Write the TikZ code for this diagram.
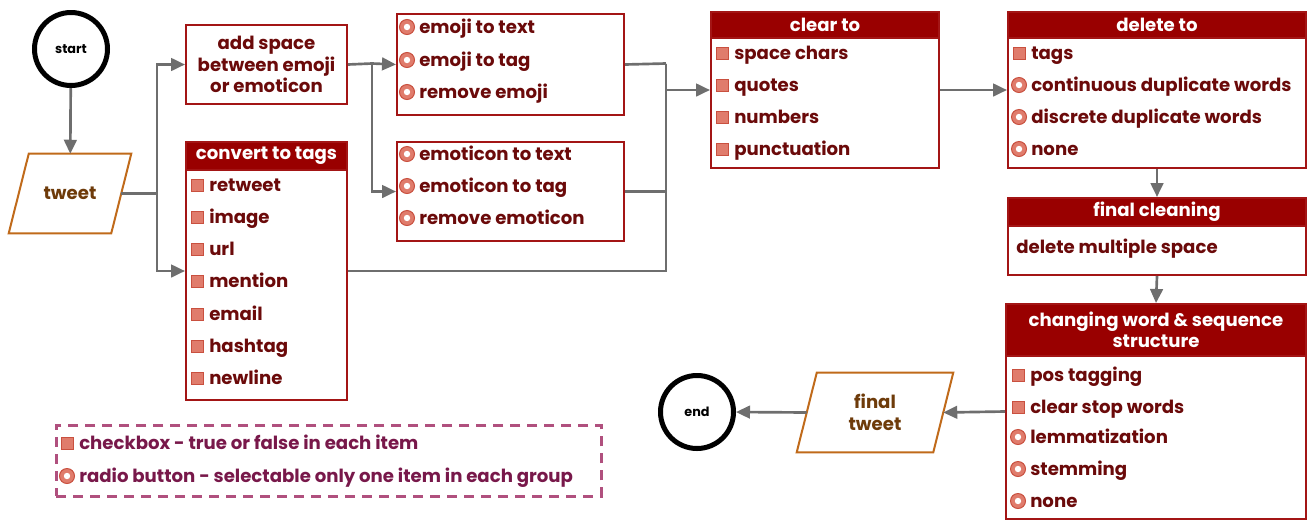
\documentclass[tikz,border=0pt]{standalone}
\usepackage{fontspec}
\setmainfont{Poppins}
\usetikzlibrary{arrows.meta,calc}
\definecolor{hdr}{HTML}{990000}
\definecolor{brd}{HTML}{A31515}
\definecolor{itm}{HTML}{6B0A0A}
\definecolor{chk}{HTML}{E07C6C}
\definecolor{chkb}{HTML}{C9503F}
\definecolor{conn}{HTML}{6E6E6E}
\definecolor{para}{HTML}{C06A1A}
\definecolor{paratxt}{HTML}{6E3B0A}
\definecolor{leg}{HTML}{B0507E}
\definecolor{legtxt}{HTML}{78184A}
\newcommand\itemfont{\fontsize{13.6}{16.2}\selectfont\bfseries}
\newcommand\termfont{\fontsize{9.6}{11}\selectfont\bfseries}
\newcommand\ck[4]{\node[ckb] (#1b) at (#2,#3) {}; \node[itxt] (#1) at ({#2+12},{#3+6}) {#4};}
\newcommand\rd[4]{\node[rdo] (#1b) at (#2,#3) {}; \node[itxt] (#1) at ({#2+12},{#3+6}) {#4};}
\tikzset{
 conn/.style={draw=conn, line width=2pt, -{Triangle[length=10.5pt,width=9.5pt]}},
 plain/.style={draw=conn, line width=2pt},
 box/.style={draw=brd, line width=1.5pt, fill=white, rectangle, inner sep=0pt, anchor=north west},
 hd/.style={fill=hdr, draw=brd, line width=1.5pt, text=white, font=\itemfont, anchor=north west, inner sep=0pt, align=center},
 itxt/.style={text=itm, font=\itemfont, anchor=base west, inner sep=0pt},
 ckb/.style={rectangle, fill=chk, draw=chkb, line width=0.75pt, minimum size=9pt, inner sep=0pt},
 rdo/.style={circle, fill=chk, draw=chkb, line width=0.75pt, minimum size=11.25pt, inner sep=0pt,
   path picture={\fill[white] (path picture bounding box.center) circle (2.4pt);}},
 term/.style={circle, draw=black, line width=3.75pt, minimum size=54.75pt, inner sep=0pt, font=\termfont},
 io/.style={rectangle, inner sep=0pt, text=paratxt, font=\itemfont, align=center},
 iodraw/.style={draw=para, line width=1.5pt, fill=white, line join=miter},
 legbox/.style={draw=leg, line width=1.9pt, dash pattern=on 7.5pt off 5.25pt, rectangle, inner sep=0pt, anchor=north west},
 ltxt/.style={text=legtxt, font=\itemfont, anchor=base west, inner sep=0pt},
}
\begin{document}
\begin{tikzpicture}[x=0.75pt,y=-0.75pt]
\useasboundingbox (0,0) rectangle (1307,519);
% terminals
\node[term] (start) at (71,49) {start};
\node[term] (end) at (697,412) {end};
% tweet
\node[io, minimum width=76.5pt, minimum height=59.25pt] (tweet) at (70,193.5) {};
\draw[iodraw] ($(tweet.south west)+(-10,0)$) -- ($(tweet.north west)+(10,0)$) -- ($(tweet.north east)+(10,0)$) -- ($(tweet.south east)+(-10,0)$) -- cycle;
\node[io] (tweettxt) at (tweet.center) {tweet};
% final tweet
\node[io, minimum width=102pt, minimum height=59.25pt] (ftweet) at (875,412.5) {};
\draw[iodraw] ($(ftweet.south west)+(-10,0)$) -- ($(ftweet.north west)+(10,0)$) -- ($(ftweet.north east)+(10,0)$) -- ($(ftweet.south east)+(-10,0)$) -- cycle;
\node[io] (ftweettxt) at (ftweet.center) {final\\tweet};
% add space
\node[box, minimum width=120.75pt, minimum height=59.25pt, text=itm, font=\itemfont, align=center] (addsp) at (185,24) {add space\\between emoji\\or emoticon};
% convert to tags
\node[box, minimum width=120.75pt, minimum height=193.5pt] (conv) at (185,141) {};
\node[hd, minimum width=120.75pt, minimum height=21pt] (convh) at (185,141) {convert to tags};
\ck{c1}{197}{185}{retweet}
\ck{c2}{197}{217}{image}
\ck{c3}{197}{249}{url}
\ck{c4}{197}{281}{mention}
\ck{c5}{197}{314}{email}
\ck{c6}{197}{346}{hashtag}
\ck{c7}{197}{378}{newline}
% emoji
\node[box, minimum width=170.25pt, minimum height=75.75pt] (emoji) at (396,13) {};
\rd{e1}{407}{27}{emoji to text}
\rd{e2}{407}{60}{emoji to tag}
\rd{e3}{407}{92}{remove emoji}
% emoticon
\node[box, minimum width=170.25pt, minimum height=74.25pt] (emot) at (396,141) {};
\rd{m1}{407}{154}{emoticon to text}
\rd{m2}{407}{186}{emoticon to tag}
\rd{m3}{407}{218}{remove emoticon}
% clear to
\node[box, minimum width=171pt, minimum height=117pt] (clear) at (710,11) {};
\node[hd, minimum width=171pt, minimum height=19.5pt] (clearh) at (710,11) {clear to};
\ck{k1}{722}{53}{space chars}
\ck{k2}{722}{85}{quotes}
\ck{k3}{722}{117}{numbers}
\ck{k4}{722}{149}{punctuation}
% delete to
\node[box, minimum width=223.5pt, minimum height=117pt] (del) at (1007,11) {};
\node[hd, minimum width=223.5pt, minimum height=19.5pt] (delh) at (1007,11) {delete to};
\ck{d1}{1019}{53}{tags}
\rd{d2}{1019}{85}{continuous duplicate words}
\rd{d3}{1019}{117}{discrete duplicate words}
\rd{d4}{1019}{149}{none}
% final cleaning
\node[box, minimum width=223.5pt, minimum height=57.75pt] (fclean) at (1007,197) {};
\node[hd, minimum width=223.5pt, minimum height=21pt] (fcleanh) at (1007,197) {final cleaning};
\node[itxt] (f1) at (1016,253) {delete multiple space};
% changing
\node[box, minimum width=225pt, minimum height=161.25pt] (chg) at (1005,303) {};
\node[hd, minimum width=225pt, minimum height=39pt] (chgh) at (1005,303) {changing word \& sequence\\structure};
\ck{g1}{1018}{375}{pos tagging}
\ck{g2}{1018}{407}{clear stop words}
\rd{g3}{1018}{437}{lemmatization}
\rd{g4}{1018}{469}{stemming}
\rd{g5}{1018}{501}{none}
% legend
\node[legbox, minimum width=408.75pt, minimum height=53.25pt] (legend) at (55,424) {};
\node[ckb] (l1b) at (67,443) {};
\node[ltxt] (l1) at (79,449) {checkbox - true or false in each item};
\node[rdo] (l2b) at (67,476) {};
\node[ltxt] (l2) at (79,482) {radio button - selectable only one item in each group};
% connectors
\draw[conn] (start) -- (tweet);
\coordinate (jl) at (157,193.5);
\draw[plain] (tweet.east) -- (jl);
\draw[conn] (jl) |- (addsp.west);
\draw[conn] (jl) |- (conv.west);
\coordinate (jm) at (372,63.5);
\draw[plain] (addsp.east) -- (jm);
\draw[conn] (jm) -- (emoji.west);
\draw[conn] (jm) |- (emot.west);
\coordinate (jr) at (666,63.5);
\draw[plain] (emoji.east) -- (jr);
\draw[plain] (emot.east) -- (emot.east -| jr);
\draw[plain] (conv.east) -| (jr);
\draw[conn] (jr) |- (clear.west);
\draw[conn] (clear.east) -- (del.west);
\draw[conn] (del.south) -- (fcleanh.north);
\draw[conn] (fclean.south) -- (chgh.north);
\draw[conn] (chg.west) -- (ftweet.east);
\draw[conn] (ftweet.west) -- (end.east);
\end{tikzpicture}
\end{document}
